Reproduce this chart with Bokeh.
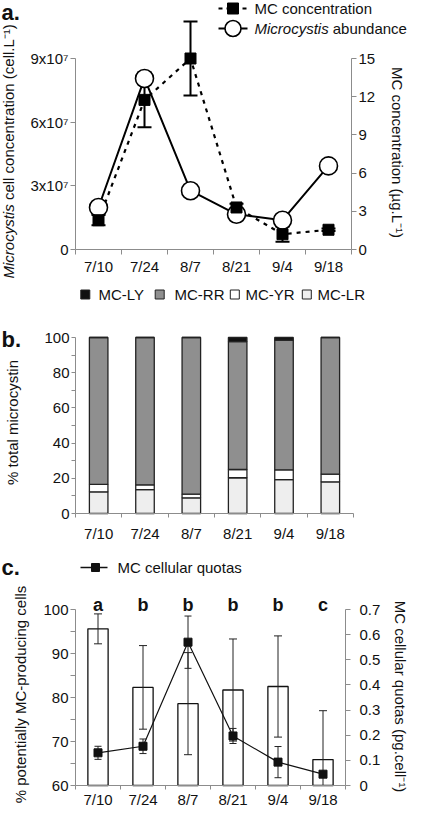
import math
from bokeh.plotting import figure
from bokeh.models import (Range1d, LinearAxis, FixedTicker, CustomJSTickFormatter,
                          Label, ColumnDataSource)
from bokeh.layouts import column
from bokeh.core.properties import value
from bokeh.embed import file_html
from bokeh.resources import INLINE

# ---------------- data ----------------
categories = ["7/10", "7/24", "8/7", "8/21", "9/4", "9/18"]

# panel a
abundance = [1.98e7, 8.06e7, 2.77e7, 1.66e7, 1.38e7, 3.94e7]
mc_conc = [2.3, 11.75, 15.0, 3.3, 1.2, 1.55]
mc_conc_err = [0.4, 2.15, 2.9, 0.3, 0.6, 0.1]
left_ticks_a = [0, 3e7, 6e7, 9e7]
right_ticks_a = [0, 3, 6, 9, 12, 15]

# panel b (% of total microcystin)
mc_lr = [12.3, 13.6, 8.9, 20.3, 19.3, 18.0]
mc_yr = [4.2, 2.7, 2.1, 4.7, 5.5, 4.4]
mc_rr = [83.5, 83.7, 89.0, 72.7, 73.7, 77.6]
mc_ly = [0.0, 0.0, 0.0, 2.3, 1.5, 0.0]
ticks_b = [0, 20, 40, 60, 80, 100]
minor_b = [10, 30, 50, 70, 90]

# panel c
pct_cells = [95.6, 82.3, 78.6, 81.7, 82.5, 65.9]
pct_cells_err = [3.4, 9.5, 11.6, 11.6, 11.5, 11.1]
quota = [0.130, 0.156, 0.570, 0.197, 0.093, 0.045]
quota_err = [0.026, 0.029, 0.104, 0.030, 0.062, 0.008]
letters = ["a", "b", "b", "b", "b", "c"]
ticks_c = [60, 70, 80, 90, 100]
minor_c = [65, 75, 85, 95]
right_ticks_c = [0, 0.1, 0.2, 0.3, 0.4, 0.5, 0.6, 0.7]

# ---------------- style ----------------
FONT = "Liberation Sans"
AX = "#8c8c8c"
INK = "#111111"
FS = "15px"
W = 409
n = len(categories)
xc = [i + 0.5 for i in range(n)]
xb = list(range(n + 1))

xfmt = CustomJSTickFormatter(args=dict(cats=categories),
                             code="return cats[Math.floor(tick)] || '';")


def lin(p_a, v_a, p_b, v_b):
    return lambda p: v_a + (p - p_a) * (v_b - v_a) / (p_b - p_a)


def make_fig(page_top, height, fl, fr, fy):
    fx = lin(fl, 0, fr, n)
    p = figure(width=W, height=height,
               x_range=Range1d(fx(8), fx(8 + W)),
               y_range=Range1d(fy(page_top + height), fy(page_top)),
               min_border=0, min_border_left=0, min_border_right=0,
               min_border_top=0, min_border_bottom=0,
               toolbar_location=None, output_backend="svg")
    p.outline_line_color = None
    p.xgrid.grid_line_color = None
    p.ygrid.grid_line_color = None
    p.background_fill_color = "white"
    p.border_fill_color = "white"
    return p, fx


def style_axis(ax, ticks, minor=None, fmt=None, out=5, standoff=2, hide_major=False):
    ax.ticker = FixedTicker(ticks=ticks, minor_ticks=minor or [])
    if fmt is not None:
        ax.formatter = fmt
    ax.axis_line_color = AX
    ax.axis_line_width = 1
    ax.major_tick_line_color = None if hide_major else AX
    ax.minor_tick_line_color = AX
    ax.major_tick_out = out
    ax.major_tick_in = 0
    ax.minor_tick_out = out
    ax.minor_tick_in = 0
    ax.major_label_standoff = standoff
    ax.major_label_text_font = FONT
    ax.major_label_text_font_size = FS
    ax.major_label_text_color = INK


def label(p, x, y, text, size=FS, style="normal", angle=0.0, align="left", baseline="middle"):
    p.add_layout(Label(x=x, y=y, text=text, text_font=FONT, text_font_size=size,
                       text_font_style=style, text_color=INK, angle=angle,
                       text_align=align, text_baseline=baseline))


# ================= panel a =================
A_top, A_h = 8, 282
fyA = lin(257, 0, 66, 9e7)
frA = lin(257, 0, 66, 15)
pA, fxA = make_fig(A_top, A_h, 83, 359, fyA)
pA.extra_y_ranges = {"r": Range1d(frA(A_top + A_h), frA(A_top))}
axr = LinearAxis(y_range_name="r", bounds=(0, 15), fixed_location=n)
pA.add_layout(axr, "right")
pA.below[0].fixed_location = 0
pA.below[0].bounds = (0, n)
pA.left[0].fixed_location = 0
pA.left[0].bounds = (0, 9e7)

style_axis(pA.below[0], xc, xb, xfmt, out=5, standoff=3, hide_major=True)
style_axis(pA.left[0], left_ticks_a, None,
           CustomJSTickFormatter(code="return tick == 0 ? '0' : Math.round(tick/1e7) + 'x10\u2077';"),
           out=5, standoff=2)
style_axis(axr, right_ticks_a, None,
           CustomJSTickFormatter(code="return Math.round(tick).toString();"), out=5, standoff=2)

srcA = ColumnDataSource(dict(x=xc, ab=abundance, mc=mc_conc,
                             lo=[m - e for m, e in zip(mc_conc, mc_conc_err)],
                             hi=[m + e for m, e in zip(mc_conc, mc_conc_err)]))
pA.line("x", "ab", source=srcA, line_color="black", line_width=2)
pA.line("x", "mc", source=srcA, y_range_name="r", line_color="black",
        line_width=2.2, line_dash="4 5")
pA.segment(x0="x", y0="lo", x1="x", y1="hi", source=srcA, y_range_name="r",
           line_color="black", line_width=2)
pA.scatter("x", "hi", source=srcA, y_range_name="r", marker="dash", size=14,
           line_color="black", line_width=2)
pA.scatter("x", "lo", source=srcA, y_range_name="r", marker="dash", size=14,
           line_color="black", line_width=2)
pA.scatter("x", "ab", source=srcA, marker="circle", size=18, fill_color="white",
           line_color="black", line_width=1.6)
pA.scatter("x", "mc", source=srcA, y_range_name="r", marker="square", size=11,
           fill_color="black", line_color="black")

# legend a
ly1, ly2 = 16, 36
lg_x0, lg_x1, lg_t = 226, 255, 262
pA.line([fxA(lg_x0), fxA(lg_x1)], [fyA(ly1), fyA(ly1)], line_color="black",
        line_width=2.2, line_dash="4 4")
pA.scatter([fxA((lg_x0 + lg_x1) / 2)], [fyA(ly1)], marker="square", size=11,
           fill_color="black", line_color="black")
pA.line([fxA(lg_x0), fxA(lg_x1)], [fyA(ly2), fyA(ly2)], line_color="black", line_width=2)
pA.scatter([fxA((lg_x0 + lg_x1) / 2)], [fyA(ly2)], marker="circle", size=16,
           fill_color="white", line_color="black", line_width=1.6)
label(pA, fxA(lg_t), fyA(ly1), "MC concentration")
label(pA, fxA(lg_t), fyA(ly2), "Microcystis", style="italic")
label(pA, fxA(lg_t + 74.2 + 4.0), fyA(ly2), "abundance")

# axis titles a
label(pA, fxA(16), fyA(286), "Microcystis", style="italic", angle=math.pi / 2)
label(pA, fxA(16), fyA(286 - 78.4), "cell concentration (cell.L\u207b\u00b9)", angle=math.pi / 2)
label(pA, fxA(405), fyA(160), "MC concentration (\u00b5g.L\u207b\u00b9)",
      angle=-math.pi / 2, align="center")
label(pA, fxA(9), fyA(7), "a.", size="22px", style="bold", baseline="top")

# ================= panel b =================
B_top, B_h = 290, 262
fyB = lin(521, 0, 345, 100)
pB, fxB = make_fig(B_top, B_h, 83, 361, fyB)
pB.below[0].fixed_location = 0
pB.below[0].bounds = (0, n)
pB.left[0].fixed_location = 0
pB.left[0].bounds = (0, 100)
style_axis(pB.below[0], xc, xb, xfmt, out=4, standoff=7, hide_major=True)
style_axis(pB.left[0], ticks_b, minor_b,
           CustomJSTickFormatter(code="return Math.round(tick).toString();"), out=4, standoff=2)

srcB = ColumnDataSource(dict(x=xc, lr=mc_lr, yr=mc_yr, rr=mc_rr, ly=mc_ly))
colors_b = ["#eeeeee", "#ffffff", "#8f8f8f", "#111111"]
pB.vbar_stack(["lr", "yr", "rr", "ly"], x="x", width=0.4, source=srcB,
              fill_color=colors_b, line_color="#222222", line_width=1.3)

# legend b
lyB = 302
leg_items = [("MC-LY", "#111111", 92.8, 106), ("MC-RR", "#8f8f8f", 167.2, 182),
             ("MC-YR", "#ffffff", 242.3, 253), ("MC-LR", "#eeeeee", 314.3, 325)]
for name, col, sx, tx in leg_items:
    pB.scatter([fxB(sx)], [fyB(lyB)], marker="square", size=9, fill_color=col,
               line_color="#222222", line_width=1)
    label(pB, fxB(tx), fyB(lyB), name)

label(pB, fxB(20), fyB(430), "% total microcystin", angle=math.pi / 2, align="center")
label(pB, fxB(9), fyB(334), "b.", size="22px", style="bold", baseline="top")

# ================= panel c =================
C_top, C_h = 552, 265
fyC = lin(793, 60, 617, 100)
frC = lin(793, 0, 617, 0.7)
pC, fxC = make_fig(C_top, C_h, 83, 353, fyC)
pC.extra_y_ranges = {"r": Range1d(frC(C_top + C_h), frC(C_top))}
axrC = LinearAxis(y_range_name="r", bounds=(0, 0.7), fixed_location=n)
pC.add_layout(axrC, "right")
pC.below[0].fixed_location = 60
pC.below[0].bounds = (0, n)
pC.left[0].fixed_location = 0
pC.left[0].bounds = (60, 100)
style_axis(pC.below[0], xc, xb, xfmt, out=4, standoff=1, hide_major=True)
style_axis(pC.left[0], ticks_c, minor_c,
           CustomJSTickFormatter(code="return Math.round(tick).toString();"), out=5, standoff=2)
style_axis(axrC, right_ticks_c, None,
           CustomJSTickFormatter(code="return tick < 1e-9 ? '0' : tick.toFixed(1);"),
           out=5, standoff=9)

srcC = ColumnDataSource(dict(
    x=xc, pct=pct_cells,
    plo=[max(v - e, 60) for v, e in zip(pct_cells, pct_cells_err)],
    phi=[v + e for v, e in zip(pct_cells, pct_cells_err)],
    q=quota,
    qlo=[v - e for v, e in zip(quota, quota_err)],
    qhi=[v + e for v, e in zip(quota, quota_err)],
    let=letters))
capC = ColumnDataSource(dict(
    x=[x for x, v, e in zip(xc, pct_cells, pct_cells_err) if v - e >= 60],
    y=[v - e for v, e in zip(pct_cells, pct_cells_err) if v - e >= 60]))
pC.vbar(x="x", bottom=60, top="pct", width=0.45, source=srcC, fill_color="white",
        line_color="#111111", line_width=1.3)
pC.segment(x0="x", y0="plo", x1="x", y1="phi", source=srcC, line_color="#222222", line_width=1)
pC.scatter("x", "phi", source=srcC, marker="dash", size=8, line_color="#222222", line_width=1)
pC.scatter("x", "y", source=capC, marker="dash", size=8, line_color="#222222", line_width=1)
pC.line("x", "q", source=srcC, y_range_name="r", line_color="#111111", line_width=1.2)
pC.segment(x0="x", y0="qlo", x1="x", y1="qhi", source=srcC, y_range_name="r",
           line_color="#222222", line_width=1)
pC.scatter("x", "qhi", source=srcC, y_range_name="r", marker="dash", size=7,
           line_color="#222222", line_width=1)
pC.scatter("x", "qlo", source=srcC, y_range_name="r", marker="dash", size=7,
           line_color="#222222", line_width=1)
pC.scatter("x", "q", source=srcC, y_range_name="r", marker="square", size=8,
           fill_color="#111111", line_color="#111111")
pC.text(x="x", y=fyC(612), text="let", source=srcC, text_font=value(FONT),
        text_font_size="18px", text_font_style="bold", text_align="center",
        text_baseline="middle", text_color=INK)

# legend c
lyC = 575
pC.line([fxC(88), fxC(115)], [fyC(lyC), fyC(lyC)], line_color="#111111", line_width=1.3)
pC.scatter([fxC(103)], [fyC(lyC)], marker="square", size=8, fill_color="#111111",
           line_color="#111111")
label(pC, fxC(125), fyC(lyC), "MC cellular quotas")

label(pC, fxC(28), fyC(702), "% potentially MC-producing cells", angle=math.pi / 2, align="center")
label(pC, fxC(408), fyC(704), "MC cellular quotas (pg.cell\u207b\u00b9)",
      angle=-math.pi / 2, align="center")
label(pC, fxC(9), fyC(562), "c.", size="22px", style="bold", baseline="top")

layout = column(pA, pB, pC)
open("out.html", "w").write(file_html(layout, INLINE))
